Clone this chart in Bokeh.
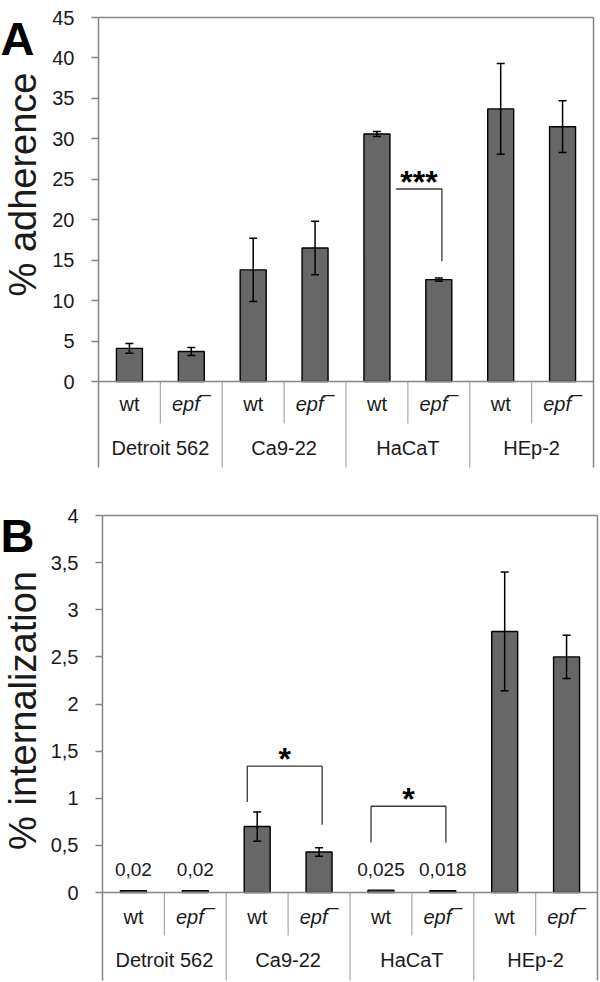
import math
from bokeh.plotting import figure
from bokeh.models import (Range1d, FixedTicker, Whisker, TeeHead, ColumnDataSource,
                          Label, CustomJSTickFormatter)
from bokeh.layouts import column
from bokeh.embed import file_html
from bokeh.resources import INLINE
from bokeh.core.properties import value

# ---------------- data ----------------
groups = ["Detroit 562", "Ca9-22", "HaCaT", "HEp-2"]
strains = ["wt", "epf\u00af"]

adh_mean = [4.1, 3.7, 13.8, 16.5, 30.6, 12.6, 33.7, 31.5]
adh_err = [0.6, 0.5, 3.9, 3.3, 0.3, 0.2, 5.6, 3.2]

int_mean = [0.02, 0.02, 0.70, 0.43, 0.025, 0.018, 2.77, 2.50]
int_err = [0.0, 0.0, 0.155, 0.045, 0.0, 0.0, 0.63, 0.23]
int_labels = ["0,02", "0,02", "", "", "0,025", "0,018", "", ""]

adh_ticks = [0, 5, 10, 15, 20, 25, 30, 35, 40, 45]
int_ticks = [0, 0.5, 1, 1.5, 2, 2.5, 3, 3.5, 4]

# significance brackets (bar-slot coordinates and heights)
adh_sig_x0 = [4.81]
adh_sig_x1 = [5.55]
adh_sig_top = [23.8]
adh_sig_left_end = [23.8]
adh_sig_right_end = [14.9]
adh_sig_label = ["***"]

int_sig_x0 = [2.34, 4.34]
int_sig_x1 = [3.55, 5.55]
int_sig_top = [1.34, 0.915]
int_sig_left_end = [0.96, 0.53]
int_sig_right_end = [0.72, 0.53]
int_sig_label = ["*", "*"]

FONT = "Liberation Sans"
AXIS_COLOR = "#858585"
SEP_COLOR = "#a8a8a8"
BAR_COLOR = "#676767"
TEXT_COLOR = "#1a1a1a"
FIG_W = 600


def make_panel(letter, means, errs, ticks, ylabel, height, frame_px, sep_bottom, sub_end,
               strain_y, group_y, sig, letter_px, ylabel_px, tick_formatter=None,
               bar_labels=None, bar_label_y=None):
    n = len(means)
    y_top = ticks[-1]
    left_px, right_px, top_px, zero_px = frame_px
    ppx = (right_px - left_px) / n
    ppy = (zero_px - top_px) / y_top
    x_start = -left_px / ppx
    x_end = n + (FIG_W - right_px) / ppx
    y_end = y_top + top_px / ppy
    y_start = -(height - zero_px) / ppy
    if sep_bottom is None:
        sep_bottom = y_start

    def dx(px):
        return (px - left_px) / ppx

    def dy(py):
        return (zero_px - py) / ppy

    xs = [i + 0.5 for i in range(n)]
    p = figure(width=FIG_W, height=height, x_range=Range1d(x_start, x_end),
               y_range=Range1d(y_start, y_end), output_backend="svg",
               toolbar_location=None, min_border_left=0, min_border_right=0,
               min_border_top=0, min_border_bottom=0)
    p.xaxis.visible = False
    p.xgrid.visible = False
    p.ygrid.visible = False
    p.outline_line_color = None
    p.background_fill_color = "white"
    p.border_fill_color = "white"

    ax = p.yaxis[0]
    ax.fixed_location = 0
    ax.bounds = (sep_bottom, y_top)
    ax.ticker = FixedTicker(ticks=ticks, minor_ticks=[])
    if tick_formatter is not None:
        ax.formatter = tick_formatter
    ax.axis_line_color = AXIS_COLOR
    ax.axis_line_width = 1.5
    ax.major_tick_line_color = AXIS_COLOR
    ax.major_tick_line_width = 1.5
    ax.major_tick_out = 7
    ax.major_tick_in = 0
    ax.minor_tick_line_color = None
    ax.major_label_standoff = 17
    ax.major_label_text_font = FONT
    ax.major_label_text_font_size = "20px"
    ax.major_label_text_color = TEXT_COLOR

    # frame lines (top, right)
    p.segment(x0=[0], y0=[y_top], x1=[n], y1=[y_top], line_color=AXIS_COLOR, line_width=1.5)
    p.segment(x0=[n], y0=[sep_bottom], x1=[n], y1=[y_top], line_color=AXIS_COLOR, line_width=1.5)

    # category separators
    group_x = [2 * k for k in range(1, len(groups))]
    sub_x = [2 * k + 1 for k in range(len(groups))]
    p.segment(x0=group_x, y0=[0] * len(group_x), x1=group_x, y1=[sep_bottom] * len(group_x),
              line_color=SEP_COLOR, line_width=1.2)
    p.segment(x0=sub_x, y0=[0] * len(sub_x), x1=sub_x, y1=[sub_end] * len(sub_x),
              line_color=SEP_COLOR, line_width=1.2)

    # bars
    p.vbar(x=xs, top=means, bottom=0, width=0.42, fill_color=BAR_COLOR,
           line_color="black", line_width=1.4)

    # error bars (drawn on top of the bars)
    ex = [x for x, e in zip(xs, errs) if e > 0]
    eu = [m + e for m, e in zip(means, errs) if e > 0]
    el = [m - e for m, e in zip(means, errs) if e > 0]
    src = ColumnDataSource(dict(x=ex, upper=eu, lower=el))
    p.add_layout(Whisker(source=src, base="x", upper="upper", lower="lower",
                         level="annotation", line_color="black", line_width=1.5,
                         upper_head=TeeHead(size=8, line_color="black", line_width=1.5),
                         lower_head=TeeHead(size=8, line_color="black", line_width=1.5)))

    # zero line
    p.segment(x0=[0], y0=[0], x1=[n], y1=[0], line_color=AXIS_COLOR, line_width=1.5)

    # category labels
    wt_x = [xs[i] for i in range(0, n, 2)]
    epf_x = [xs[i] for i in range(1, n, 2)]
    p.text(x=wt_x, y=[strain_y] * len(wt_x), text=[strains[0]] * len(wt_x),
           text_font=value(FONT), text_font_size="20px", text_align="center",
           text_baseline="middle", text_color=TEXT_COLOR)
    p.text(x=epf_x, y=[strain_y] * len(epf_x), text=[strains[1]] * len(epf_x),
           text_font=value(FONT), text_font_size="20px", text_font_style="italic",
           text_align="center", text_baseline="middle", text_color=TEXT_COLOR)
    gx = [2 * k + 1 for k in range(len(groups))]
    p.text(x=gx, y=[group_y] * len(gx), text=groups,
           text_font=value(FONT), text_font_size="20px", text_align="center",
           text_baseline="middle", text_color=TEXT_COLOR)

    # value labels
    if bar_labels is not None:
        lx = [x for x, t in zip(xs, bar_labels) if t]
        lt = [t for t in bar_labels if t]
        p.text(x=lx, y=[bar_label_y] * len(lx), text=lt, text_font=value(FONT),
               text_font_size="19px", text_align="center", text_baseline="middle",
               text_color=TEXT_COLOR)

    # significance brackets
    x0s, x1s, tops, lends, rends, labs = sig
    bx = [[a, a, b, b] for a, b in zip(x0s, x1s)]
    by = [[le, t, t, re] for t, le, re in zip(tops, lends, rends)]
    p.multi_line(xs=bx, ys=by, line_color="#3a3a3a", line_width=1.3)
    p.text(x=[(a + b) / 2 for a, b in zip(x0s, x1s)], y=tops, text=labs,
           text_font=value(FONT), text_font_size="32px", text_font_style="bold",
           text_align="center", text_baseline="alphabetic", y_offset=-7,
           text_color="black")

    # y-axis title
    p.add_layout(Label(x=dx(ylabel_px[0]), y=dy(ylabel_px[1]), text=ylabel,
                       angle=math.pi / 2, text_font=FONT, text_font_size="38px",
                       text_align="center", text_baseline="middle",
                       text_color=TEXT_COLOR))

    # panel letter
    p.add_layout(Label(x=dx(letter_px[0]), y=dy(letter_px[1]), text=letter,
                       text_font=FONT, text_font_size="47px", text_font_style="bold",
                       text_baseline="alphabetic", text_color="black"))
    return p


pa = make_panel("A", adh_mean, adh_err, adh_ticks, "% adherence", height=477,
                frame_px=(98, 593, 17, 381), sep_bottom=-10.63, sub_end=-5.19,
                strain_y=-2.72, group_y=-8.28,
                sig=(adh_sig_x0, adh_sig_x1, adh_sig_top, adh_sig_left_end,
                     adh_sig_right_end, adh_sig_label),
                letter_px=(0, 38), ylabel_px=(22, 184))

comma = CustomJSTickFormatter(code="return tick.toString().replace('.', ',');")
pb = make_panel("B", int_mean, int_err, int_ticks, "% internalization", height=504,
                frame_px=(102, 597, 38, 415), sep_bottom=-0.934, sub_end=-0.456,
                strain_y=-0.255, group_y=-0.72,
                sig=(int_sig_x0, int_sig_x1, int_sig_top, int_sig_left_end,
                     int_sig_right_end, int_sig_label),
                letter_px=(0, 58), ylabel_px=(22, 233),
                tick_formatter=comma, bar_labels=int_labels, bar_label_y=0.244)

layout = column(pa, pb)
open("out.html", "w").write(file_html(layout, INLINE))
